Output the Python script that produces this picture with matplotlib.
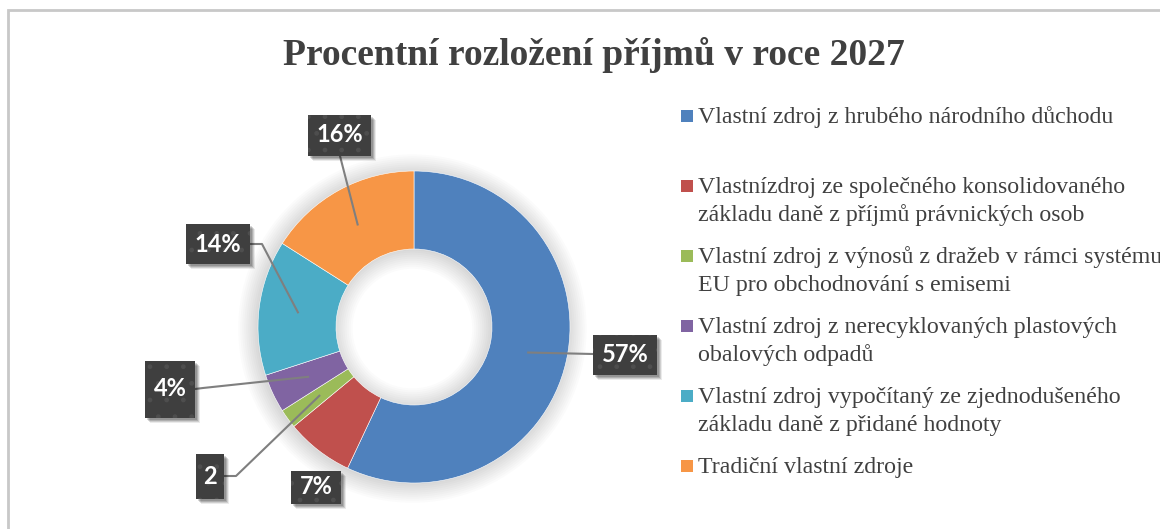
import numpy as np
import matplotlib.pyplot as plt
from matplotlib.patches import Rectangle, Wedge

# data
categories = [
    "Vlastní zdroj z hrubého národního důchodu",
    "Vlastnízdroj ze společného konsolidovaného\nzákladu daně z příjmů právnických osob",
    "Vlastní zdroj z výnosů z dražeb v rámci systému\nEU pro obchodnování s emisemi",
    "Vlastní zdroj z nerecyklovaných plastových\nobalových odpadů",
    "Vlastní zdroj vypočítaný ze zjednodušeného\nzákladu daně z přidané hodnoty",
    "Tradiční vlastní zdroje",
]
values = [57, 7, 2, 4, 14, 16]
value_labels = ["57%", "7%", "2", "4%", "14%", "16%"]
colors = ["#4F81BD", "#C0504D", "#9BBB59", "#8064A2", "#4BACC6", "#F79646"]

W, H = 1160, 529
CX, CY, R = 414, 327, 156  # donut centre / radius in pixels


def px(x, y):
    # pixel (from top-left) -> data coords
    return (x - CX) / R, (CY - y) / R


plt.rcParams["hatch.linewidth"] = 1.0

fig = plt.figure(figsize=(W / 100, H / 100), dpi=100)
ax = fig.add_axes([0, 0, 1, 1])

# soft shadow around the ring
for k in range(10):
    ax.add_patch(Wedge((-0.01, -0.01), 1.0 + 0.013 * k, 0, 360, width=0.5 + 0.026 * k,
                       facecolor="black", edgecolor="none", alpha=0.016, zorder=0))

wedges, _ = ax.pie(values, colors=colors, startangle=90, counterclock=False,
                   radius=1.0, wedgeprops=dict(width=0.5, edgecolor="white", linewidth=0.4))
for w in wedges:
    w.set_zorder(2)

ax.set_xlim(-CX / R, (W - CX) / R)
ax.set_ylim(-(H - CY) / R, CY / R)
ax.set_aspect("auto")
ax.axis("off")

# label boxes: centre x, centre y, width, height (pixels), leader path (pixels) from box to slice
boxes = [
    (625, 355, 64, 40, [(593, 354)]),
    (316, 487, 50, 33, None),
    (210, 476, 28, 45, [(224, 476), (236, 476)]),
    (170, 389, 50, 57, [(195, 389), (203, 388)]),
    (218, 244, 64, 40, [(250, 244), (262, 244)]),
    (340, 135, 63, 41, [(340, 156)]),
]

angles = 90 - np.cumsum([0] + values[:-1]) * 3.6 - np.array(values) * 1.8
for i, (bx, by, bw, bh, path) in enumerate(boxes):
    a = np.deg2rad(angles[i])
    if path is not None:
        xs = [px(p[0], p[1])[0] for p in path] + [0.75 * np.cos(a)]
        ys = [px(p[0], p[1])[1] for p in path] + [0.75 * np.sin(a)]
        ax.plot(xs, ys, color="#7F7F7F", lw=1.5, zorder=3)
    x0, y0 = px(bx - bw / 2, by + bh / 2)
    # shadow
    for off, al in [(5, 0.08), (4, 0.12), (3, 0.15), (2, 0.15)]:
        sx, sy = px(bx - bw / 2 + off, by + bh / 2 + off)
        ax.add_patch(Rectangle((sx, sy), bw / R, bh / R, facecolor="black",
                               edgecolor="none", alpha=al, zorder=4))
    ax.add_patch(Rectangle((x0, y0), bw / R, bh / R, facecolor="#3F3F3F",
                           edgecolor="#4E4E4E", linewidth=0, hatch=".", zorder=5))
    tx, ty = px(bx, by)
    ax.text(tx, ty, value_labels[i], ha="center", va="center", color="white",
            fontsize=17, fontweight="bold", family="Lato", zorder=6)

# title
fig.text(594 / W, 1 - 55 / H, "Procentní rozložení příjmů v roce 2027", ha="center",
         va="center", fontsize=27, fontweight="bold", family="Liberation Serif", color="#404040")

# legend
for i, lab in enumerate(categories):
    base = 123 + 70 * i
    fig.patches.append(Rectangle((681 / W, 1 - (base - 1) / H), 12 / W, 12 / H,
                                 transform=fig.transFigure, facecolor=colors[i],
                                 edgecolor="none"))
    for j, line in enumerate(lab.split("\n")):
        fig.text(698 / W, 1 - (base + 28 * j) / H, line, ha="left", va="baseline",
                 fontsize=17.2, family="Liberation Serif", color="#404040")

# chart frame
fig.patches.append(Rectangle((8 / W, -0.1), 1.2, 1 - 10 / H + 0.1, transform=fig.transFigure,
                             facecolor="none", edgecolor="#C8C8C8", linewidth=2))

plt.savefig("out.png", dpi=100)
